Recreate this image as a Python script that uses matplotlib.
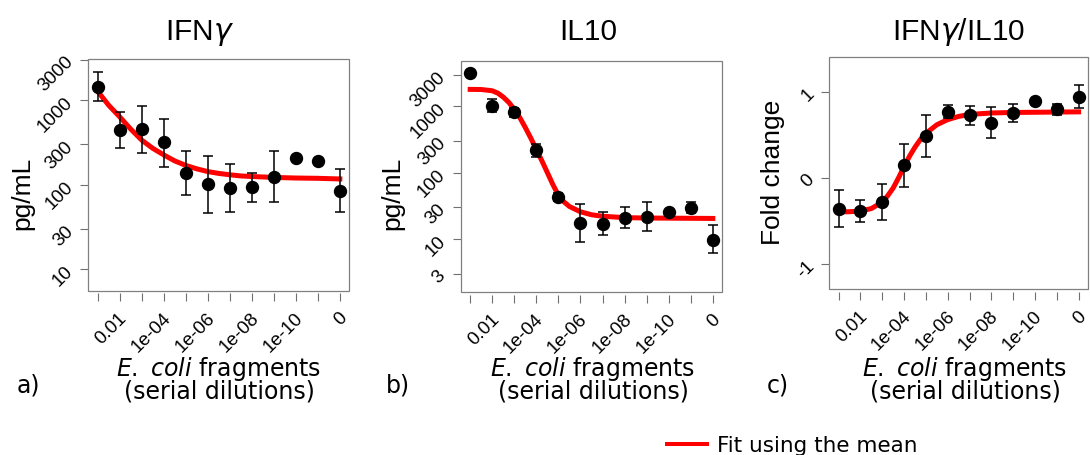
import matplotlib
matplotlib.use("Agg")
import matplotlib.pyplot as plt
from matplotlib import font_manager
from matplotlib.lines import Line2D
from matplotlib.patches import Rectangle
from matplotlib.ticker import NullLocator
from matplotlib.transforms import ScaledTranslation

# serial dilutions: position 0 = 0.1 ... position 10 = 1e-11, position 11 = control (0)
dil_pos = [0, 1, 2, 3, 4, 5, 6, 7, 8, 9, 10, 11]
dil_labels = ["", "0.01", "", "1e-04", "", "1e-06", "", "1e-08", "", "1e-10", "", "0"]

# a) IFNg, pg/mL
ifng_mean = [1445, 441, 452, 316, 137, 102, 91, 93, 125, 205, 191, 85]
ifng_lo = [964, 269, 235, 164, 75, 46, 48, 62, 62, 205, 191, 47]
ifng_hi = [2168, 722, 844, 604, 252, 221, 175, 138, 250, 205, 191, 154]
ifng_fit_x = [0, 0.5, 1, 1.5, 2, 2.5, 3, 3.5, 4, 4.5, 5, 5.5, 6, 6.5, 7, 8, 9, 10, 11]
ifng_fit_y = [1264, 866, 632, 453, 336, 269, 225, 191, 169, 154, 143, 136, 131, 127, 125, 122, 120, 119, 117]

# b) IL10, pg/mL
il10_mean = [3220, 1012, 811, 220, 43.5, 17.2, 17.0, 21.0, 21.7, 25.8, 29.3, 9.8]
il10_lo = [3220, 811, 699, 170, 37.9, 9.1, 11.5, 14.8, 13.4, 25.8, 24.4, 6.1]
il10_hi = [3220, 1291, 932, 270, 48.8, 33.3, 25.2, 30.0, 35.7, 25.8, 36.5, 16.1]
il10_fit_x = [0, 0.5, 1, 1.25, 1.5, 1.75, 2, 2.25, 2.5, 2.75, 3, 3.25, 3.5, 3.75, 4, 4.25, 4.5, 5, 5.5, 6, 7, 8, 11]
il10_fit_y = [1803, 1795, 1718, 1585, 1380, 1148, 902, 676, 479, 331, 224, 151, 100, 66, 45.7, 36.3, 30.9, 25.7, 23.2, 22.0, 21.0, 20.7, 20.4]

# c) IFNg/IL10, fold change
ratio_mean = [-0.365, -0.388, -0.28, 0.151, 0.485, 0.765, 0.726, 0.641, 0.75, 0.897, 0.796, 0.94]
ratio_lo = [-0.575, -0.517, -0.489, -0.105, 0.245, 0.691, 0.614, 0.466, 0.645, 0.897, 0.73, 0.808]
ratio_hi = [-0.148, -0.264, -0.074, 0.396, 0.726, 0.847, 0.835, 0.816, 0.858, 0.897, 0.858, 1.072]
ratio_fit_x = [0, 0.5, 1, 1.5, 2, 2.25, 2.5, 2.75, 3, 3.25, 3.5, 3.75, 4, 4.5, 5, 5.5, 6, 7, 8, 11]
ratio_fit_y = [-0.40, -0.397, -0.39, -0.36, -0.285, -0.21, -0.12, 0.0, 0.13, 0.25, 0.355, 0.445, 0.515, 0.615, 0.675, 0.712, 0.735, 0.752, 0.758, 0.765]

installed = {f.name for f in font_manager.fontManager.ttflist}
SANS = "Liberation Sans"
NARROW = "Liberation Sans Narrow" if "Liberation Sans Narrow" in installed else SANS
plt.rcParams["font.family"] = [SANS, "DejaVu Sans"]
plt.rcParams["mathtext.fontset"] = "dejavusans"

W, H = 1090, 455
fig = plt.figure(figsize=(W / 100, H / 100), dpi=100)


def fx(x):
    return x / W


def fy(y):
    return 1 - y / H


def panel(box, mean, lo, hi, fit_x, fit_y, yticks, ylim, log):
    l, t, r, b = box
    ax = fig.add_axes([fx(l), fy(b), (r - l) / W, (b - t) / H])
    if log:
        ax.set_yscale("log")
    ax.plot(fit_x, fit_y, color="#ff0000", lw=3.6, zorder=2)
    yerr = [[m - a for m, a in zip(mean, lo)], [c - m for m, c in zip(mean, hi)]]
    ax.errorbar(dil_pos, mean, yerr=yerr, fmt="none", ecolor="black",
                elinewidth=1.1, capsize=3.6, capthick=1.1, zorder=3)
    ax.plot(dil_pos, mean, "o", color="black", ms=8.6, zorder=4)
    ax.set_xlim(-0.43, 11.43)
    ax.set_ylim(*ylim)
    for s in ax.spines.values():
        s.set_visible(False)
    ax.spines["bottom"].set_position(("outward", 2))
    ax.add_patch(Rectangle((0, 0), 1, 1, transform=ax.transAxes, fill=False,
                           ec="#808080", lw=0.9, clip_on=False, zorder=5))
    ax.tick_params(axis="both", direction="out", length=5.8, width=0.8, color="#707070")
    ax.tick_params(axis="x", pad=10)
    ax.tick_params(axis="y", pad=7)
    ax.yaxis.set_minor_locator(NullLocator())
    ax.set_yticks(yticks)
    ax.set_yticklabels([str(v) for v in yticks], rotation=45, ha="right",
                       va="center", rotation_mode="anchor", fontsize=13.5)
    ax.set_xticks(dil_pos)
    ax.set_xticklabels(dil_labels, rotation=45, ha="right", va="center",
                       rotation_mode="anchor", fontsize=13.5)
    shift = ScaledTranslation(4.5 / 100, 0, fig.dpi_scale_trans)
    for lab in ax.get_xticklabels():
        lab.set_transform(lab.get_transform() + shift)
    return ax


ax_a = panel((88.3, 59.3, 349.3, 290.7), ifng_mean, ifng_lo, ifng_hi, ifng_fit_x, ifng_fit_y,
             [10, 30, 100, 300, 1000, 3000], (5.6, 3030), True)
ax_b = panel((460.7, 60.7, 722.3, 292.3), il10_mean, il10_lo, il10_hi, il10_fit_x, il10_fit_y,
             [3, 10, 30, 100, 300, 1000, 3000], (1.57, 4880), True)
ax_c = panel((829.3, 57.3, 1088.0, 289.3), ratio_mean, ratio_lo, ratio_hi, ratio_fit_x, ratio_fit_y,
             [-1, 0, 1], (-1.30, 1.40), False)

# titles
tsize = 24 if NARROW != SANS else 21.5
fig.text(fx(200), fy(40), r"IFN$\gamma$", family=NARROW, fontsize=tsize, ha="center", va="baseline")
fig.text(fx(588), fy(40), "IL10", family=NARROW, fontsize=tsize, ha="center", va="baseline")
fig.text(fx(958.5), fy(40), r"IFN$\gamma$/IL10", family=NARROW, fontsize=tsize, ha="center", va="baseline")

# y labels
fig.text(fx(22.5), fy(193), "pg/mL", fontsize=19, rotation=90, ha="center", va="center")
fig.text(fx(392.5), fy(193), "pg/mL", fontsize=19, rotation=90, ha="center", va="center")
fig.text(fx(773), fy(172), "Fold change", fontsize=19, rotation=90, ha="center", va="center")

# x labels and panel letters
for cx, letter, lx in [(219, "a)", 17), (593, "b)", 386), (965, "c)", 767)]:
    fig.text(fx(cx), fy(399), "$\\mathit{E.}$ $\\mathit{coli}$ fragments\n(serial dilutions)",
             family="DejaVu Sans", fontsize=17, ha="center", va="baseline",
             multialignment="center", linespacing=0.84)
    fig.text(fx(lx), fy(393), letter, family="DejaVu Sans", fontsize=17,
             ha="left", va="baseline")

# legend
proxy = Line2D([], [], color="#ff0000", lw=2.9)
fig.legend(handles=[proxy], labels=["Fit using the mean"], loc="center left",
           bbox_to_anchor=(fx(667), fy(446)), frameon=False, borderpad=0,
           borderaxespad=0, handlelength=1.86, handletextpad=0.47,
           prop={"family": "DejaVu Sans", "size": 15.5})

fig.savefig("out.png", dpi=100)
